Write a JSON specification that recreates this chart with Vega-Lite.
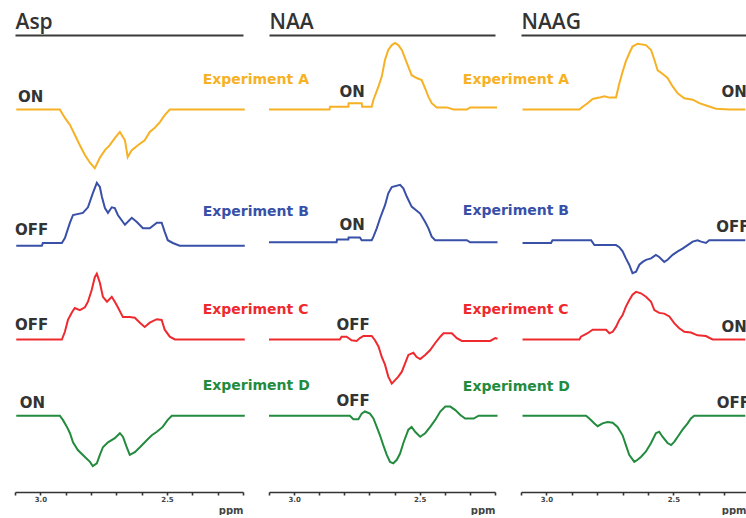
{
"$schema": "https://vega.github.io/schema/vega-lite/v6.json",
"background": "white",
"padding": {"left": 12, "top": 11, "right": 0, "bottom": 0},
"autosize": {"type": "pad"},
"bounds": "flush",
"spacing": 26,
"config": {"view": {"stroke": null}},
"datasets": {
"spectra": [
{"metabolite":"Asp","exp":"A","ppm":3.095,"signal":0},{"metabolite":"Asp","exp":"A","ppm":2.923,"signal":0},{"metabolite":"Asp","exp":"A","ppm":2.903,"signal":-0.12},{"metabolite":"Asp","exp":"A","ppm":2.883,"signal":-0.22},{"metabolite":"Asp","exp":"A","ppm":2.864,"signal":-0.36},{"metabolite":"Asp","exp":"A","ppm":2.844,"signal":-0.51},{"metabolite":"Asp","exp":"A","ppm":2.824,"signal":-0.65},{"metabolite":"Asp","exp":"A","ppm":2.804,"signal":-0.76},{"metabolite":"Asp","exp":"A","ppm":2.785,"signal":-0.84},{"metabolite":"Asp","exp":"A","ppm":2.765,"signal":-0.69},{"metabolite":"Asp","exp":"A","ppm":2.745,"signal":-0.58},{"metabolite":"Asp","exp":"A","ppm":2.726,"signal":-0.51},{"metabolite":"Asp","exp":"A","ppm":2.706,"signal":-0.41},{"metabolite":"Asp","exp":"A","ppm":2.686,"signal":-0.32},{"metabolite":"Asp","exp":"A","ppm":2.666,"signal":-0.44},{"metabolite":"Asp","exp":"A","ppm":2.655,"signal":-0.68},{"metabolite":"Asp","exp":"A","ppm":2.639,"signal":-0.58},{"metabolite":"Asp","exp":"A","ppm":2.615,"signal":-0.51},{"metabolite":"Asp","exp":"A","ppm":2.588,"signal":-0.44},{"metabolite":"Asp","exp":"A","ppm":2.568,"signal":-0.32},{"metabolite":"Asp","exp":"A","ppm":2.548,"signal":-0.26},{"metabolite":"Asp","exp":"A","ppm":2.528,"signal":-0.18},{"metabolite":"Asp","exp":"A","ppm":2.509,"signal":-0.08},{"metabolite":"Asp","exp":"A","ppm":2.489,"signal":0},{"metabolite":"Asp","exp":"A","ppm":2.193,"signal":0},
{"metabolite":"Asp","exp":"B","ppm":3.095,"signal":-0.04},{"metabolite":"Asp","exp":"B","ppm":2.994,"signal":-0.04},{"metabolite":"Asp","exp":"B","ppm":2.99,"signal":0},{"metabolite":"Asp","exp":"B","ppm":2.915,"signal":0},{"metabolite":"Asp","exp":"B","ppm":2.903,"signal":0.07},{"metabolite":"Asp","exp":"B","ppm":2.883,"signal":0.29},{"metabolite":"Asp","exp":"B","ppm":2.871,"signal":0.4},{"metabolite":"Asp","exp":"B","ppm":2.832,"signal":0.43},{"metabolite":"Asp","exp":"B","ppm":2.812,"signal":0.51},{"metabolite":"Asp","exp":"B","ppm":2.793,"signal":0.71},{"metabolite":"Asp","exp":"B","ppm":2.777,"signal":0.86},{"metabolite":"Asp","exp":"B","ppm":2.765,"signal":0.8},{"metabolite":"Asp","exp":"B","ppm":2.757,"signal":0.66},{"metabolite":"Asp","exp":"B","ppm":2.745,"signal":0.5},{"metabolite":"Asp","exp":"B","ppm":2.733,"signal":0.43},{"metabolite":"Asp","exp":"B","ppm":2.718,"signal":0.51},{"metabolite":"Asp","exp":"B","ppm":2.706,"signal":0.5},{"metabolite":"Asp","exp":"B","ppm":2.694,"signal":0.4},{"metabolite":"Asp","exp":"B","ppm":2.666,"signal":0.26},{"metabolite":"Asp","exp":"B","ppm":2.639,"signal":0.36},{"metabolite":"Asp","exp":"B","ppm":2.619,"signal":0.3},{"metabolite":"Asp","exp":"B","ppm":2.595,"signal":0.21},{"metabolite":"Asp","exp":"B","ppm":2.568,"signal":0.21},{"metabolite":"Asp","exp":"B","ppm":2.54,"signal":0.29},{"metabolite":"Asp","exp":"B","ppm":2.521,"signal":0.29},{"metabolite":"Asp","exp":"B","ppm":2.509,"signal":0.16},{"metabolite":"Asp","exp":"B","ppm":2.497,"signal":0.04},{"metabolite":"Asp","exp":"B","ppm":2.477,"signal":0},{"metabolite":"Asp","exp":"B","ppm":2.45,"signal":-0.04},{"metabolite":"Asp","exp":"B","ppm":2.193,"signal":-0.04},
{"metabolite":"Asp","exp":"C","ppm":3.095,"signal":0},{"metabolite":"Asp","exp":"C","ppm":2.915,"signal":0},{"metabolite":"Asp","exp":"C","ppm":2.903,"signal":0.11},{"metabolite":"Asp","exp":"C","ppm":2.891,"signal":0.28},{"metabolite":"Asp","exp":"C","ppm":2.875,"signal":0.39},{"metabolite":"Asp","exp":"C","ppm":2.864,"signal":0.45},{"metabolite":"Asp","exp":"C","ppm":2.844,"signal":0.42},{"metabolite":"Asp","exp":"C","ppm":2.824,"signal":0.46},{"metabolite":"Asp","exp":"C","ppm":2.812,"signal":0.54},{"metabolite":"Asp","exp":"C","ppm":2.797,"signal":0.71},{"metabolite":"Asp","exp":"C","ppm":2.785,"signal":0.89},{"metabolite":"Asp","exp":"C","ppm":2.777,"signal":0.94},{"metabolite":"Asp","exp":"C","ppm":2.765,"signal":0.81},{"metabolite":"Asp","exp":"C","ppm":2.753,"signal":0.61},{"metabolite":"Asp","exp":"C","ppm":2.737,"signal":0.54},{"metabolite":"Asp","exp":"C","ppm":2.718,"signal":0.61},{"metabolite":"Asp","exp":"C","ppm":2.706,"signal":0.54},{"metabolite":"Asp","exp":"C","ppm":2.694,"signal":0.46},{"metabolite":"Asp","exp":"C","ppm":2.674,"signal":0.32},{"metabolite":"Asp","exp":"C","ppm":2.647,"signal":0.32},{"metabolite":"Asp","exp":"C","ppm":2.627,"signal":0.31},{"metabolite":"Asp","exp":"C","ppm":2.607,"signal":0.24},{"metabolite":"Asp","exp":"C","ppm":2.588,"signal":0.18},{"metabolite":"Asp","exp":"C","ppm":2.568,"signal":0.24},{"metabolite":"Asp","exp":"C","ppm":2.54,"signal":0.29},{"metabolite":"Asp","exp":"C","ppm":2.521,"signal":0.28},{"metabolite":"Asp","exp":"C","ppm":2.509,"signal":0.14},{"metabolite":"Asp","exp":"C","ppm":2.489,"signal":0.04},{"metabolite":"Asp","exp":"C","ppm":2.469,"signal":0},{"metabolite":"Asp","exp":"C","ppm":2.193,"signal":0},
{"metabolite":"Asp","exp":"D","ppm":3.095,"signal":0},{"metabolite":"Asp","exp":"D","ppm":2.923,"signal":0},{"metabolite":"Asp","exp":"D","ppm":2.911,"signal":-0.06},{"metabolite":"Asp","exp":"D","ppm":2.895,"signal":-0.16},{"metabolite":"Asp","exp":"D","ppm":2.883,"signal":-0.25},{"metabolite":"Asp","exp":"D","ppm":2.871,"signal":-0.38},{"metabolite":"Asp","exp":"D","ppm":2.852,"signal":-0.49},{"metabolite":"Asp","exp":"D","ppm":2.824,"signal":-0.59},{"metabolite":"Asp","exp":"D","ppm":2.804,"signal":-0.66},{"metabolite":"Asp","exp":"D","ppm":2.793,"signal":-0.72},{"metabolite":"Asp","exp":"D","ppm":2.777,"signal":-0.68},{"metabolite":"Asp","exp":"D","ppm":2.765,"signal":-0.56},{"metabolite":"Asp","exp":"D","ppm":2.753,"signal":-0.45},{"metabolite":"Asp","exp":"D","ppm":2.733,"signal":-0.38},{"metabolite":"Asp","exp":"D","ppm":2.706,"signal":-0.32},{"metabolite":"Asp","exp":"D","ppm":2.686,"signal":-0.25},{"metabolite":"Asp","exp":"D","ppm":2.674,"signal":-0.3},{"metabolite":"Asp","exp":"D","ppm":2.659,"signal":-0.45},{"metabolite":"Asp","exp":"D","ppm":2.647,"signal":-0.56},{"metabolite":"Asp","exp":"D","ppm":2.627,"signal":-0.52},{"metabolite":"Asp","exp":"D","ppm":2.607,"signal":-0.45},{"metabolite":"Asp","exp":"D","ppm":2.58,"signal":-0.35},{"metabolite":"Asp","exp":"D","ppm":2.56,"signal":-0.28},{"metabolite":"Asp","exp":"D","ppm":2.54,"signal":-0.23},{"metabolite":"Asp","exp":"D","ppm":2.517,"signal":-0.16},{"metabolite":"Asp","exp":"D","ppm":2.497,"signal":-0.06},{"metabolite":"Asp","exp":"D","ppm":2.481,"signal":0},{"metabolite":"Asp","exp":"D","ppm":2.193,"signal":0},
{"metabolite":"NAA","exp":"A","ppm":3.1,"signal":0},{"metabolite":"NAA","exp":"A","ppm":2.859,"signal":0},{"metabolite":"NAA","exp":"A","ppm":2.857,"signal":0.04},{"metabolite":"NAA","exp":"A","ppm":2.784,"signal":0.04},{"metabolite":"NAA","exp":"A","ppm":2.783,"signal":0.09},{"metabolite":"NAA","exp":"A","ppm":2.731,"signal":0.09},{"metabolite":"NAA","exp":"A","ppm":2.729,"signal":0.04},{"metabolite":"NAA","exp":"A","ppm":2.691,"signal":0.04},{"metabolite":"NAA","exp":"A","ppm":2.684,"signal":0.14},{"metabolite":"NAA","exp":"A","ppm":2.664,"signal":0.33},{"metabolite":"NAA","exp":"A","ppm":2.651,"signal":0.47},{"metabolite":"NAA","exp":"A","ppm":2.638,"signal":0.71},{"metabolite":"NAA","exp":"A","ppm":2.625,"signal":0.85},{"metabolite":"NAA","exp":"A","ppm":2.611,"signal":0.92},{"metabolite":"NAA","exp":"A","ppm":2.598,"signal":0.95},{"metabolite":"NAA","exp":"A","ppm":2.585,"signal":0.92},{"metabolite":"NAA","exp":"A","ppm":2.571,"signal":0.85},{"metabolite":"NAA","exp":"A","ppm":2.558,"signal":0.73},{"metabolite":"NAA","exp":"A","ppm":2.545,"signal":0.61},{"metabolite":"NAA","exp":"A","ppm":2.532,"signal":0.49},{"metabolite":"NAA","exp":"A","ppm":2.512,"signal":0.45},{"metabolite":"NAA","exp":"A","ppm":2.492,"signal":0.42},{"metabolite":"NAA","exp":"A","ppm":2.478,"signal":0.3},{"metabolite":"NAA","exp":"A","ppm":2.465,"signal":0.18},{"metabolite":"NAA","exp":"A","ppm":2.452,"signal":0.09},{"metabolite":"NAA","exp":"A","ppm":2.432,"signal":0.03},{"metabolite":"NAA","exp":"A","ppm":2.392,"signal":0.03},{"metabolite":"NAA","exp":"A","ppm":2.365,"signal":0},{"metabolite":"NAA","exp":"A","ppm":2.312,"signal":0},{"metabolite":"NAA","exp":"A","ppm":2.299,"signal":0.03},{"metabolite":"NAA","exp":"A","ppm":2.192,"signal":0.03},
{"metabolite":"NAA","exp":"B","ppm":3.1,"signal":0.01},{"metabolite":"NAA","exp":"B","ppm":2.831,"signal":0.01},{"metabolite":"NAA","exp":"B","ppm":2.829,"signal":0.05},{"metabolite":"NAA","exp":"B","ppm":2.784,"signal":0.05},{"metabolite":"NAA","exp":"B","ppm":2.783,"signal":0.08},{"metabolite":"NAA","exp":"B","ppm":2.738,"signal":0.08},{"metabolite":"NAA","exp":"B","ppm":2.731,"signal":0.04},{"metabolite":"NAA","exp":"B","ppm":2.691,"signal":0.04},{"metabolite":"NAA","exp":"B","ppm":2.684,"signal":0.09},{"metabolite":"NAA","exp":"B","ppm":2.671,"signal":0.21},{"metabolite":"NAA","exp":"B","ppm":2.658,"signal":0.35},{"metabolite":"NAA","exp":"B","ppm":2.638,"signal":0.54},{"metabolite":"NAA","exp":"B","ppm":2.625,"signal":0.71},{"metabolite":"NAA","exp":"B","ppm":2.611,"signal":0.8},{"metabolite":"NAA","exp":"B","ppm":2.578,"signal":0.83},{"metabolite":"NAA","exp":"B","ppm":2.565,"signal":0.78},{"metabolite":"NAA","exp":"B","ppm":2.551,"signal":0.66},{"metabolite":"NAA","exp":"B","ppm":2.532,"signal":0.52},{"metabolite":"NAA","exp":"B","ppm":2.498,"signal":0.42},{"metabolite":"NAA","exp":"B","ppm":2.478,"signal":0.3},{"metabolite":"NAA","exp":"B","ppm":2.465,"signal":0.21},{"metabolite":"NAA","exp":"B","ppm":2.452,"signal":0.09},{"metabolite":"NAA","exp":"B","ppm":2.438,"signal":0.04},{"metabolite":"NAA","exp":"B","ppm":2.312,"signal":0.04},{"metabolite":"NAA","exp":"B","ppm":2.299,"signal":0.01},{"metabolite":"NAA","exp":"B","ppm":2.19,"signal":0.01},
{"metabolite":"NAA","exp":"C","ppm":3.1,"signal":0},{"metabolite":"NAA","exp":"C","ppm":2.818,"signal":0},{"metabolite":"NAA","exp":"C","ppm":2.811,"signal":0.04},{"metabolite":"NAA","exp":"C","ppm":2.791,"signal":0.04},{"metabolite":"NAA","exp":"C","ppm":2.771,"signal":-0.01},{"metabolite":"NAA","exp":"C","ppm":2.751,"signal":-0.02},{"metabolite":"NAA","exp":"C","ppm":2.738,"signal":0.02},{"metabolite":"NAA","exp":"C","ppm":2.724,"signal":0.05},{"metabolite":"NAA","exp":"C","ppm":2.691,"signal":0.05},{"metabolite":"NAA","exp":"C","ppm":2.678,"signal":-0.01},{"metabolite":"NAA","exp":"C","ppm":2.664,"signal":-0.1},{"metabolite":"NAA","exp":"C","ppm":2.651,"signal":-0.25},{"metabolite":"NAA","exp":"C","ppm":2.638,"signal":-0.36},{"metabolite":"NAA","exp":"C","ppm":2.625,"signal":-0.53},{"metabolite":"NAA","exp":"C","ppm":2.611,"signal":-0.63},{"metabolite":"NAA","exp":"C","ppm":2.598,"signal":-0.58},{"metabolite":"NAA","exp":"C","ppm":2.585,"signal":-0.53},{"metabolite":"NAA","exp":"C","ppm":2.571,"signal":-0.46},{"metabolite":"NAA","exp":"C","ppm":2.558,"signal":-0.34},{"metabolite":"NAA","exp":"C","ppm":2.545,"signal":-0.22},{"metabolite":"NAA","exp":"C","ppm":2.525,"signal":-0.19},{"metabolite":"NAA","exp":"C","ppm":2.512,"signal":-0.25},{"metabolite":"NAA","exp":"C","ppm":2.498,"signal":-0.28},{"metabolite":"NAA","exp":"C","ppm":2.478,"signal":-0.22},{"metabolite":"NAA","exp":"C","ppm":2.458,"signal":-0.15},{"metabolite":"NAA","exp":"C","ppm":2.438,"signal":-0.05},{"metabolite":"NAA","exp":"C","ppm":2.418,"signal":0.04},{"metabolite":"NAA","exp":"C","ppm":2.405,"signal":0.09},{"metabolite":"NAA","exp":"C","ppm":2.372,"signal":0.09},{"metabolite":"NAA","exp":"C","ppm":2.352,"signal":0.02},{"metabolite":"NAA","exp":"C","ppm":2.332,"signal":-0.02},{"metabolite":"NAA","exp":"C","ppm":2.219,"signal":-0.02},{"metabolite":"NAA","exp":"C","ppm":2.199,"signal":0.02},{"metabolite":"NAA","exp":"C","ppm":2.19,"signal":0.01},
{"metabolite":"NAA","exp":"D","ppm":3.1,"signal":0},{"metabolite":"NAA","exp":"D","ppm":2.778,"signal":0},{"metabolite":"NAA","exp":"D","ppm":2.764,"signal":-0.05},{"metabolite":"NAA","exp":"D","ppm":2.744,"signal":-0.05},{"metabolite":"NAA","exp":"D","ppm":2.731,"signal":0.03},{"metabolite":"NAA","exp":"D","ppm":2.718,"signal":0.06},{"metabolite":"NAA","exp":"D","ppm":2.698,"signal":0.03},{"metabolite":"NAA","exp":"D","ppm":2.684,"signal":-0.04},{"metabolite":"NAA","exp":"D","ppm":2.671,"signal":-0.16},{"metabolite":"NAA","exp":"D","ppm":2.658,"signal":-0.28},{"metabolite":"NAA","exp":"D","ppm":2.645,"signal":-0.42},{"metabolite":"NAA","exp":"D","ppm":2.631,"signal":-0.56},{"metabolite":"NAA","exp":"D","ppm":2.618,"signal":-0.66},{"metabolite":"NAA","exp":"D","ppm":2.605,"signal":-0.68},{"metabolite":"NAA","exp":"D","ppm":2.591,"signal":-0.63},{"metabolite":"NAA","exp":"D","ppm":2.578,"signal":-0.54},{"metabolite":"NAA","exp":"D","ppm":2.565,"signal":-0.39},{"metabolite":"NAA","exp":"D","ppm":2.545,"signal":-0.2},{"metabolite":"NAA","exp":"D","ppm":2.532,"signal":-0.16},{"metabolite":"NAA","exp":"D","ppm":2.518,"signal":-0.23},{"metabolite":"NAA","exp":"D","ppm":2.498,"signal":-0.3},{"metabolite":"NAA","exp":"D","ppm":2.478,"signal":-0.25},{"metabolite":"NAA","exp":"D","ppm":2.458,"signal":-0.16},{"metabolite":"NAA","exp":"D","ppm":2.438,"signal":-0.06},{"metabolite":"NAA","exp":"D","ppm":2.418,"signal":0.06},{"metabolite":"NAA","exp":"D","ppm":2.398,"signal":0.13},{"metabolite":"NAA","exp":"D","ppm":2.378,"signal":0.13},{"metabolite":"NAA","exp":"D","ppm":2.358,"signal":0.08},{"metabolite":"NAA","exp":"D","ppm":2.338,"signal":0.01},{"metabolite":"NAA","exp":"D","ppm":2.319,"signal":-0.04},{"metabolite":"NAA","exp":"D","ppm":2.285,"signal":-0.04},{"metabolite":"NAA","exp":"D","ppm":2.265,"signal":0},{"metabolite":"NAA","exp":"D","ppm":2.19,"signal":0},
{"metabolite":"NAAG","exp":"A","ppm":3.094,"signal":0},{"metabolite":"NAAG","exp":"A","ppm":2.87,"signal":0},{"metabolite":"NAAG","exp":"A","ppm":2.857,"signal":0.04},{"metabolite":"NAAG","exp":"A","ppm":2.838,"signal":0.09},{"metabolite":"NAAG","exp":"A","ppm":2.818,"signal":0.15},{"metabolite":"NAAG","exp":"A","ppm":2.792,"signal":0.17},{"metabolite":"NAAG","exp":"A","ppm":2.772,"signal":0.19},{"metabolite":"NAAG","exp":"A","ppm":2.752,"signal":0.17},{"metabolite":"NAAG","exp":"A","ppm":2.726,"signal":0.17},{"metabolite":"NAAG","exp":"A","ppm":2.713,"signal":0.37},{"metabolite":"NAAG","exp":"A","ppm":2.7,"signal":0.54},{"metabolite":"NAAG","exp":"A","ppm":2.687,"signal":0.69},{"metabolite":"NAAG","exp":"A","ppm":2.674,"signal":0.8},{"metabolite":"NAAG","exp":"A","ppm":2.661,"signal":0.9},{"metabolite":"NAAG","exp":"A","ppm":2.641,"signal":0.94},{"metabolite":"NAAG","exp":"A","ppm":2.608,"signal":0.92},{"metabolite":"NAAG","exp":"A","ppm":2.588,"signal":0.85},{"metabolite":"NAAG","exp":"A","ppm":2.575,"signal":0.71},{"metabolite":"NAAG","exp":"A","ppm":2.562,"signal":0.56},{"metabolite":"NAAG","exp":"A","ppm":2.543,"signal":0.51},{"metabolite":"NAAG","exp":"A","ppm":2.523,"signal":0.45},{"metabolite":"NAAG","exp":"A","ppm":2.503,"signal":0.33},{"metabolite":"NAAG","exp":"A","ppm":2.483,"signal":0.23},{"metabolite":"NAAG","exp":"A","ppm":2.457,"signal":0.16},{"metabolite":"NAAG","exp":"A","ppm":2.424,"signal":0.14},{"metabolite":"NAAG","exp":"A","ppm":2.398,"signal":0.09},{"metabolite":"NAAG","exp":"A","ppm":2.365,"signal":0.05},{"metabolite":"NAAG","exp":"A","ppm":2.332,"signal":0.01},{"metabolite":"NAAG","exp":"A","ppm":2.28,"signal":0},{"metabolite":"NAAG","exp":"A","ppm":2.217,"signal":0},
{"metabolite":"NAAG","exp":"B","ppm":3.094,"signal":0},{"metabolite":"NAAG","exp":"B","ppm":2.982,"signal":0},{"metabolite":"NAAG","exp":"B","ppm":2.976,"signal":0.04},{"metabolite":"NAAG","exp":"B","ppm":2.824,"signal":0.04},{"metabolite":"NAAG","exp":"B","ppm":2.811,"signal":-0.03},{"metabolite":"NAAG","exp":"B","ppm":2.726,"signal":-0.03},{"metabolite":"NAAG","exp":"B","ppm":2.713,"signal":-0.06},{"metabolite":"NAAG","exp":"B","ppm":2.7,"signal":-0.12},{"metabolite":"NAAG","exp":"B","ppm":2.687,"signal":-0.22},{"metabolite":"NAAG","exp":"B","ppm":2.674,"signal":-0.31},{"metabolite":"NAAG","exp":"B","ppm":2.661,"signal":-0.43},{"metabolite":"NAAG","exp":"B","ppm":2.647,"signal":-0.41},{"metabolite":"NAAG","exp":"B","ppm":2.634,"signal":-0.31},{"metabolite":"NAAG","exp":"B","ppm":2.621,"signal":-0.27},{"metabolite":"NAAG","exp":"B","ppm":2.608,"signal":-0.24},{"metabolite":"NAAG","exp":"B","ppm":2.588,"signal":-0.22},{"metabolite":"NAAG","exp":"B","ppm":2.569,"signal":-0.17},{"metabolite":"NAAG","exp":"B","ppm":2.556,"signal":-0.2},{"metabolite":"NAAG","exp":"B","ppm":2.536,"signal":-0.27},{"metabolite":"NAAG","exp":"B","ppm":2.523,"signal":-0.24},{"metabolite":"NAAG","exp":"B","ppm":2.503,"signal":-0.17},{"metabolite":"NAAG","exp":"B","ppm":2.483,"signal":-0.12},{"metabolite":"NAAG","exp":"B","ppm":2.464,"signal":-0.08},{"metabolite":"NAAG","exp":"B","ppm":2.444,"signal":-0.03},{"metabolite":"NAAG","exp":"B","ppm":2.424,"signal":0.02},{"metabolite":"NAAG","exp":"B","ppm":2.405,"signal":0.04},{"metabolite":"NAAG","exp":"B","ppm":2.391,"signal":0.02},{"metabolite":"NAAG","exp":"B","ppm":2.372,"signal":0},{"metabolite":"NAAG","exp":"B","ppm":2.359,"signal":0.04},{"metabolite":"NAAG","exp":"B","ppm":2.217,"signal":0.04},
{"metabolite":"NAAG","exp":"C","ppm":3.094,"signal":0},{"metabolite":"NAAG","exp":"C","ppm":2.87,"signal":0},{"metabolite":"NAAG","exp":"C","ppm":2.864,"signal":0.04},{"metabolite":"NAAG","exp":"C","ppm":2.838,"signal":0.09},{"metabolite":"NAAG","exp":"C","ppm":2.818,"signal":0.14},{"metabolite":"NAAG","exp":"C","ppm":2.765,"signal":0.14},{"metabolite":"NAAG","exp":"C","ppm":2.752,"signal":0.09},{"metabolite":"NAAG","exp":"C","ppm":2.739,"signal":0.11},{"metabolite":"NAAG","exp":"C","ppm":2.726,"signal":0.18},{"metabolite":"NAAG","exp":"C","ppm":2.713,"signal":0.28},{"metabolite":"NAAG","exp":"C","ppm":2.7,"signal":0.35},{"metabolite":"NAAG","exp":"C","ppm":2.687,"signal":0.47},{"metabolite":"NAAG","exp":"C","ppm":2.674,"signal":0.56},{"metabolite":"NAAG","exp":"C","ppm":2.661,"signal":0.64},{"metabolite":"NAAG","exp":"C","ppm":2.647,"signal":0.68},{"metabolite":"NAAG","exp":"C","ppm":2.628,"signal":0.66},{"metabolite":"NAAG","exp":"C","ppm":2.608,"signal":0.61},{"metabolite":"NAAG","exp":"C","ppm":2.588,"signal":0.54},{"metabolite":"NAAG","exp":"C","ppm":2.575,"signal":0.42},{"metabolite":"NAAG","exp":"C","ppm":2.556,"signal":0.38},{"metabolite":"NAAG","exp":"C","ppm":2.536,"signal":0.37},{"metabolite":"NAAG","exp":"C","ppm":2.516,"signal":0.33},{"metabolite":"NAAG","exp":"C","ppm":2.496,"signal":0.23},{"metabolite":"NAAG","exp":"C","ppm":2.477,"signal":0.16},{"metabolite":"NAAG","exp":"C","ppm":2.457,"signal":0.11},{"metabolite":"NAAG","exp":"C","ppm":2.431,"signal":0.1},{"metabolite":"NAAG","exp":"C","ppm":2.405,"signal":0.06},{"metabolite":"NAAG","exp":"C","ppm":2.372,"signal":0.05},{"metabolite":"NAAG","exp":"C","ppm":2.346,"signal":0},{"metabolite":"NAAG","exp":"C","ppm":2.217,"signal":0},
{"metabolite":"NAAG","exp":"D","ppm":3.094,"signal":0},{"metabolite":"NAAG","exp":"D","ppm":2.844,"signal":0},{"metabolite":"NAAG","exp":"D","ppm":2.831,"signal":-0.04},{"metabolite":"NAAG","exp":"D","ppm":2.811,"signal":-0.11},{"metabolite":"NAAG","exp":"D","ppm":2.798,"signal":-0.15},{"metabolite":"NAAG","exp":"D","ppm":2.779,"signal":-0.11},{"metabolite":"NAAG","exp":"D","ppm":2.759,"signal":-0.09},{"metabolite":"NAAG","exp":"D","ppm":2.739,"signal":-0.1},{"metabolite":"NAAG","exp":"D","ppm":2.72,"signal":-0.16},{"metabolite":"NAAG","exp":"D","ppm":2.7,"signal":-0.28},{"metabolite":"NAAG","exp":"D","ppm":2.687,"signal":-0.42},{"metabolite":"NAAG","exp":"D","ppm":2.674,"signal":-0.56},{"metabolite":"NAAG","exp":"D","ppm":2.654,"signal":-0.66},{"metabolite":"NAAG","exp":"D","ppm":2.641,"signal":-0.63},{"metabolite":"NAAG","exp":"D","ppm":2.628,"signal":-0.59},{"metabolite":"NAAG","exp":"D","ppm":2.608,"signal":-0.51},{"metabolite":"NAAG","exp":"D","ppm":2.588,"signal":-0.39},{"metabolite":"NAAG","exp":"D","ppm":2.569,"signal":-0.25},{"metabolite":"NAAG","exp":"D","ppm":2.556,"signal":-0.23},{"metabolite":"NAAG","exp":"D","ppm":2.543,"signal":-0.3},{"metabolite":"NAAG","exp":"D","ppm":2.523,"signal":-0.39},{"metabolite":"NAAG","exp":"D","ppm":2.509,"signal":-0.42},{"metabolite":"NAAG","exp":"D","ppm":2.496,"signal":-0.37},{"metabolite":"NAAG","exp":"D","ppm":2.483,"signal":-0.3},{"metabolite":"NAAG","exp":"D","ppm":2.464,"signal":-0.2},{"metabolite":"NAAG","exp":"D","ppm":2.444,"signal":-0.11},{"metabolite":"NAAG","exp":"D","ppm":2.431,"signal":-0.04},{"metabolite":"NAAG","exp":"D","ppm":2.418,"signal":0},{"metabolite":"NAAG","exp":"D","ppm":2.217,"signal":0}
],
"labels": [
{"metabolite":"Asp","exp":"A","ppm":3.088,"signal":0.11,"label":"ON","type":"state"},
{"metabolite":"Asp","exp":"B","ppm":3.1,"signal":0.11,"label":"OFF","type":"state"},
{"metabolite":"Asp","exp":"C","ppm":3.1,"signal":0.14,"label":"OFF","type":"state"},
{"metabolite":"Asp","exp":"D","ppm":3.081,"signal":0.11,"label":"ON","type":"state"},
{"metabolite":"NAA","exp":"A","ppm":2.819,"signal":0.18,"label":"ON","type":"state"},
{"metabolite":"NAA","exp":"B","ppm":2.819,"signal":0.19,"label":"ON","type":"state"},
{"metabolite":"NAA","exp":"C","ppm":2.831,"signal":0.14,"label":"OFF","type":"state"},
{"metabolite":"NAA","exp":"D","ppm":2.831,"signal":0.14,"label":"OFF","type":"state"},
{"metabolite":"NAAG","exp":"A","ppm":2.311,"signal":0.18,"label":"ON","type":"state"},
{"metabolite":"NAAG","exp":"B","ppm":2.331,"signal":0.16,"label":"OFF","type":"state"},
{"metabolite":"NAAG","exp":"C","ppm":2.311,"signal":0.11,"label":"ON","type":"state"},
{"metabolite":"NAAG","exp":"D","ppm":2.329,"signal":0.11,"label":"OFF","type":"state"},
{"metabolite":"Asp","exp":"A","ppm":2.359,"signal":0.36,"label":"Experiment A","type":"experiment"},
{"metabolite":"Asp","exp":"B","ppm":2.359,"signal":0.39,"label":"Experiment B","type":"experiment"},
{"metabolite":"Asp","exp":"C","ppm":2.359,"signal":0.37,"label":"Experiment C","type":"experiment"},
{"metabolite":"Asp","exp":"D","ppm":2.359,"signal":0.37,"label":"Experiment D","type":"experiment"},
{"metabolite":"NAA","exp":"A","ppm":2.328,"signal":0.36,"label":"Experiment A","type":"experiment"},
{"metabolite":"NAA","exp":"B","ppm":2.328,"signal":0.4,"label":"Experiment B","type":"experiment"},
{"metabolite":"NAA","exp":"C","ppm":2.328,"signal":0.36,"label":"Experiment C","type":"experiment"},
{"metabolite":"NAA","exp":"D","ppm":2.328,"signal":0.35,"label":"Experiment D","type":"experiment"}
]
},
"hconcat": [
{
"width": 228, "height": 457,
"resolve": {"scale": {"y": "independent"}, "axis": {"x": "independent"}},
"layer": [
{"encoding": {"x": {"field": "ppm", "type": "quantitative", "scale": {"domain": [3.1, 2.2], "nice": false, "zero": false}, "axis": {"orient": "top", "domain": true, "domainColor": "#3a3a3a", "domainWidth": 2.2, "ticks": false, "labels": false, "grid": false, "title": "Asp", "titleAnchor": "start", "titleAlign": "left", "titleBaseline": "alphabetic", "titlePadding": 7, "titleFont": "Open Sans", "titleFontSize": 21, "titleFontWeight": 600, "titleColor": "#333333"}},
  "y": {"field": "signal", "type": "quantitative", "scale": {"domain": [-5.4643, 1.0643], "nice": false, "zero": false}, "axis": null}},
 "layer": [
  {"data": {"name": "spectra"}, "transform": [{"filter": "datum.metabolite === 'Asp' && datum.exp === 'A'"}], "mark": {"type": "line", "strokeWidth": 2}, "encoding": {"color": {"field": "exp", "type": "nominal", "scale": {"domain": ["A","B","C","D"], "range": ["#F6B124","#3850A7","#EE2A2F","#238B3E"]}, "legend": null}}},
  {"data": {"name": "labels"}, "transform": [{"filter": "datum.metabolite === 'Asp' && datum.exp === 'A' && datum.type === 'state'"}], "mark": {"type": "text", "align": "left", "baseline": "alphabetic", "font": "DejaVu Sans", "fontWeight": "bold", "fontSize": 15, "color": "#333333"}, "encoding": {"text": {"field": "label"}}},
  {"data": {"name": "labels"}, "transform": [{"filter": "datum.metabolite === 'Asp' && datum.exp === 'A' && datum.type === 'experiment'"}], "mark": {"type": "text", "align": "left", "baseline": "alphabetic", "font": "DejaVu Sans", "fontWeight": "bold", "fontSize": 14}, "encoding": {"text": {"field": "label"}, "color": {"field": "exp", "type": "nominal", "scale": {"domain": ["A","B","C","D"], "range": ["#F6B124","#3850A7","#EE2A2F","#238B3E"]}, "legend": null}}}
 ]},
{"encoding": {"x": {"field": "ppm", "type": "quantitative", "scale": {"domain": [3.1, 2.2], "nice": false, "zero": false}, "axis": null},
  "y": {"field": "signal", "type": "quantitative", "scale": {"domain": [-3.5571, 2.9714], "nice": false, "zero": false}, "axis": null}},
 "layer": [
  {"data": {"name": "spectra"}, "transform": [{"filter": "datum.metabolite === 'Asp' && datum.exp === 'B'"}], "mark": {"type": "line", "strokeWidth": 2}, "encoding": {"color": {"field": "exp", "type": "nominal", "scale": {"domain": ["A","B","C","D"], "range": ["#F6B124","#3850A7","#EE2A2F","#238B3E"]}, "legend": null}}},
  {"data": {"name": "labels"}, "transform": [{"filter": "datum.metabolite === 'Asp' && datum.exp === 'B' && datum.type === 'state'"}], "mark": {"type": "text", "align": "left", "baseline": "alphabetic", "font": "DejaVu Sans", "fontWeight": "bold", "fontSize": 15, "color": "#333333"}, "encoding": {"text": {"field": "label"}}},
  {"data": {"name": "labels"}, "transform": [{"filter": "datum.metabolite === 'Asp' && datum.exp === 'B' && datum.type === 'experiment'"}], "mark": {"type": "text", "align": "left", "baseline": "alphabetic", "font": "DejaVu Sans", "fontWeight": "bold", "fontSize": 14}, "encoding": {"text": {"field": "label"}, "color": {"field": "exp", "type": "nominal", "scale": {"domain": ["A","B","C","D"], "range": ["#F6B124","#3850A7","#EE2A2F","#238B3E"]}, "legend": null}}}
 ]},
{"encoding": {"x": {"field": "ppm", "type": "quantitative", "scale": {"domain": [3.1, 2.2], "nice": false, "zero": false}, "axis": null},
  "y": {"field": "signal", "type": "quantitative", "scale": {"domain": [-2.1786, 4.35], "nice": false, "zero": false}, "axis": null}},
 "layer": [
  {"data": {"name": "spectra"}, "transform": [{"filter": "datum.metabolite === 'Asp' && datum.exp === 'C'"}], "mark": {"type": "line", "strokeWidth": 2}, "encoding": {"color": {"field": "exp", "type": "nominal", "scale": {"domain": ["A","B","C","D"], "range": ["#F6B124","#3850A7","#EE2A2F","#238B3E"]}, "legend": null}}},
  {"data": {"name": "labels"}, "transform": [{"filter": "datum.metabolite === 'Asp' && datum.exp === 'C' && datum.type === 'state'"}], "mark": {"type": "text", "align": "left", "baseline": "alphabetic", "font": "DejaVu Sans", "fontWeight": "bold", "fontSize": 15, "color": "#333333"}, "encoding": {"text": {"field": "label"}}},
  {"data": {"name": "labels"}, "transform": [{"filter": "datum.metabolite === 'Asp' && datum.exp === 'C' && datum.type === 'experiment'"}], "mark": {"type": "text", "align": "left", "baseline": "alphabetic", "font": "DejaVu Sans", "fontWeight": "bold", "fontSize": 14}, "encoding": {"text": {"field": "label"}, "color": {"field": "exp", "type": "nominal", "scale": {"domain": ["A","B","C","D"], "range": ["#F6B124","#3850A7","#EE2A2F","#238B3E"]}, "legend": null}}}
 ]},
{"encoding": {"x": {"field": "ppm", "type": "quantitative", "scale": {"domain": [3.1, 2.2], "nice": false, "zero": false}, "axis": {"orient": "bottom", "values": [3.1, 3.0, 2.9, 2.8, 2.7, 2.6, 2.5, 2.4, 2.3, 2.2], "grid": false, "domainColor": "#333333", "domainWidth": 1.6, "tickColor": "#333333", "tickWidth": 1.6, "tickSize": 3, "labelExpr": "abs(datum.value - 3) < 0.001 ? '3.0' : (abs(datum.value - 2.5) < 0.001 ? '2.5' : '')", "labelFont": "DejaVu Sans", "labelFontWeight": "bold", "labelFontSize": 7, "labelColor": "#444444", "labelPadding": 0, "labelFlush": false, "labelOverlap": false, "title": "ppm", "titleAnchor": "end", "titleFont": "DejaVu Sans", "titleFontWeight": "bold", "titleFontSize": 10, "titleColor": "#444444", "titlePadding": 3}},
  "y": {"field": "signal", "type": "quantitative", "scale": {"domain": [-1.09, 5.4386], "nice": false, "zero": false}, "axis": null}},
 "layer": [
  {"data": {"name": "spectra"}, "transform": [{"filter": "datum.metabolite === 'Asp' && datum.exp === 'D'"}], "mark": {"type": "line", "strokeWidth": 2}, "encoding": {"color": {"field": "exp", "type": "nominal", "scale": {"domain": ["A","B","C","D"], "range": ["#F6B124","#3850A7","#EE2A2F","#238B3E"]}, "legend": null}}},
  {"data": {"name": "labels"}, "transform": [{"filter": "datum.metabolite === 'Asp' && datum.exp === 'D' && datum.type === 'state'"}], "mark": {"type": "text", "align": "left", "baseline": "alphabetic", "font": "DejaVu Sans", "fontWeight": "bold", "fontSize": 15, "color": "#333333"}, "encoding": {"text": {"field": "label"}}},
  {"data": {"name": "labels"}, "transform": [{"filter": "datum.metabolite === 'Asp' && datum.exp === 'D' && datum.type === 'experiment'"}], "mark": {"type": "text", "align": "left", "baseline": "alphabetic", "font": "DejaVu Sans", "fontWeight": "bold", "fontSize": 14}, "encoding": {"text": {"field": "label"}, "color": {"field": "exp", "type": "nominal", "scale": {"domain": ["A","B","C","D"], "range": ["#F6B124","#3850A7","#EE2A2F","#238B3E"]}, "legend": null}}}
 ]}
]
},
{
"width": 226, "height": 457,
"resolve": {"scale": {"y": "independent"}, "axis": {"x": "independent"}},
"layer": [
{"encoding": {"x": {"field": "ppm", "type": "quantitative", "scale": {"domain": [3.1, 2.2], "nice": false, "zero": false}, "axis": {"orient": "top", "domain": true, "domainColor": "#3a3a3a", "domainWidth": 2.2, "ticks": false, "labels": false, "grid": false, "title": "NAA", "titleAnchor": "start", "titleAlign": "left", "titleBaseline": "alphabetic", "titlePadding": 7, "titleFont": "Open Sans", "titleFontSize": 21, "titleFontWeight": 600, "titleColor": "#333333"}},
  "y": {"field": "signal", "type": "quantitative", "scale": {"domain": [-5.4643, 1.0643], "nice": false, "zero": false}, "axis": null}},
 "layer": [
  {"data": {"name": "spectra"}, "transform": [{"filter": "datum.metabolite === 'NAA' && datum.exp === 'A'"}], "mark": {"type": "line", "strokeWidth": 2}, "encoding": {"color": {"field": "exp", "type": "nominal", "scale": {"domain": ["A","B","C","D"], "range": ["#F6B124","#3850A7","#EE2A2F","#238B3E"]}, "legend": null}}},
  {"data": {"name": "labels"}, "transform": [{"filter": "datum.metabolite === 'NAA' && datum.exp === 'A' && datum.type === 'state'"}], "mark": {"type": "text", "align": "left", "baseline": "alphabetic", "font": "DejaVu Sans", "fontWeight": "bold", "fontSize": 15, "color": "#333333"}, "encoding": {"text": {"field": "label"}}},
  {"data": {"name": "labels"}, "transform": [{"filter": "datum.metabolite === 'NAA' && datum.exp === 'A' && datum.type === 'experiment'"}], "mark": {"type": "text", "align": "left", "baseline": "alphabetic", "font": "DejaVu Sans", "fontWeight": "bold", "fontSize": 14}, "encoding": {"text": {"field": "label"}, "color": {"field": "exp", "type": "nominal", "scale": {"domain": ["A","B","C","D"], "range": ["#F6B124","#3850A7","#EE2A2F","#238B3E"]}, "legend": null}}}
 ]},
{"encoding": {"x": {"field": "ppm", "type": "quantitative", "scale": {"domain": [3.1, 2.2], "nice": false, "zero": false}, "axis": null},
  "y": {"field": "signal", "type": "quantitative", "scale": {"domain": [-3.5571, 2.9714], "nice": false, "zero": false}, "axis": null}},
 "layer": [
  {"data": {"name": "spectra"}, "transform": [{"filter": "datum.metabolite === 'NAA' && datum.exp === 'B'"}], "mark": {"type": "line", "strokeWidth": 2}, "encoding": {"color": {"field": "exp", "type": "nominal", "scale": {"domain": ["A","B","C","D"], "range": ["#F6B124","#3850A7","#EE2A2F","#238B3E"]}, "legend": null}}},
  {"data": {"name": "labels"}, "transform": [{"filter": "datum.metabolite === 'NAA' && datum.exp === 'B' && datum.type === 'state'"}], "mark": {"type": "text", "align": "left", "baseline": "alphabetic", "font": "DejaVu Sans", "fontWeight": "bold", "fontSize": 15, "color": "#333333"}, "encoding": {"text": {"field": "label"}}},
  {"data": {"name": "labels"}, "transform": [{"filter": "datum.metabolite === 'NAA' && datum.exp === 'B' && datum.type === 'experiment'"}], "mark": {"type": "text", "align": "left", "baseline": "alphabetic", "font": "DejaVu Sans", "fontWeight": "bold", "fontSize": 14}, "encoding": {"text": {"field": "label"}, "color": {"field": "exp", "type": "nominal", "scale": {"domain": ["A","B","C","D"], "range": ["#F6B124","#3850A7","#EE2A2F","#238B3E"]}, "legend": null}}}
 ]},
{"encoding": {"x": {"field": "ppm", "type": "quantitative", "scale": {"domain": [3.1, 2.2], "nice": false, "zero": false}, "axis": null},
  "y": {"field": "signal", "type": "quantitative", "scale": {"domain": [-2.1786, 4.35], "nice": false, "zero": false}, "axis": null}},
 "layer": [
  {"data": {"name": "spectra"}, "transform": [{"filter": "datum.metabolite === 'NAA' && datum.exp === 'C'"}], "mark": {"type": "line", "strokeWidth": 2}, "encoding": {"color": {"field": "exp", "type": "nominal", "scale": {"domain": ["A","B","C","D"], "range": ["#F6B124","#3850A7","#EE2A2F","#238B3E"]}, "legend": null}}},
  {"data": {"name": "labels"}, "transform": [{"filter": "datum.metabolite === 'NAA' && datum.exp === 'C' && datum.type === 'state'"}], "mark": {"type": "text", "align": "left", "baseline": "alphabetic", "font": "DejaVu Sans", "fontWeight": "bold", "fontSize": 15, "color": "#333333"}, "encoding": {"text": {"field": "label"}}},
  {"data": {"name": "labels"}, "transform": [{"filter": "datum.metabolite === 'NAA' && datum.exp === 'C' && datum.type === 'experiment'"}], "mark": {"type": "text", "align": "left", "baseline": "alphabetic", "font": "DejaVu Sans", "fontWeight": "bold", "fontSize": 14}, "encoding": {"text": {"field": "label"}, "color": {"field": "exp", "type": "nominal", "scale": {"domain": ["A","B","C","D"], "range": ["#F6B124","#3850A7","#EE2A2F","#238B3E"]}, "legend": null}}}
 ]},
{"encoding": {"x": {"field": "ppm", "type": "quantitative", "scale": {"domain": [3.1, 2.2], "nice": false, "zero": false}, "axis": {"orient": "bottom", "values": [3.1, 3.0, 2.9, 2.8, 2.7, 2.6, 2.5, 2.4, 2.3, 2.2], "grid": false, "domainColor": "#333333", "domainWidth": 1.6, "tickColor": "#333333", "tickWidth": 1.6, "tickSize": 3, "labelExpr": "abs(datum.value - 3) < 0.001 ? '3.0' : (abs(datum.value - 2.5) < 0.001 ? '2.5' : '')", "labelFont": "DejaVu Sans", "labelFontWeight": "bold", "labelFontSize": 7, "labelColor": "#444444", "labelPadding": 0, "labelFlush": false, "labelOverlap": false, "title": "ppm", "titleAnchor": "end", "titleFont": "DejaVu Sans", "titleFontWeight": "bold", "titleFontSize": 10, "titleColor": "#444444", "titlePadding": 3}},
  "y": {"field": "signal", "type": "quantitative", "scale": {"domain": [-1.09, 5.4386], "nice": false, "zero": false}, "axis": null}},
 "layer": [
  {"data": {"name": "spectra"}, "transform": [{"filter": "datum.metabolite === 'NAA' && datum.exp === 'D'"}], "mark": {"type": "line", "strokeWidth": 2}, "encoding": {"color": {"field": "exp", "type": "nominal", "scale": {"domain": ["A","B","C","D"], "range": ["#F6B124","#3850A7","#EE2A2F","#238B3E"]}, "legend": null}}},
  {"data": {"name": "labels"}, "transform": [{"filter": "datum.metabolite === 'NAA' && datum.exp === 'D' && datum.type === 'state'"}], "mark": {"type": "text", "align": "left", "baseline": "alphabetic", "font": "DejaVu Sans", "fontWeight": "bold", "fontSize": 15, "color": "#333333"}, "encoding": {"text": {"field": "label"}}},
  {"data": {"name": "labels"}, "transform": [{"filter": "datum.metabolite === 'NAA' && datum.exp === 'D' && datum.type === 'experiment'"}], "mark": {"type": "text", "align": "left", "baseline": "alphabetic", "font": "DejaVu Sans", "fontWeight": "bold", "fontSize": 14}, "encoding": {"text": {"field": "label"}, "color": {"field": "exp", "type": "nominal", "scale": {"domain": ["A","B","C","D"], "range": ["#F6B124","#3850A7","#EE2A2F","#238B3E"]}, "legend": null}}}
 ]}
]
},
{
"width": 225, "height": 457,
"resolve": {"scale": {"y": "independent"}, "axis": {"x": "independent"}},
"layer": [
{"encoding": {"x": {"field": "ppm", "type": "quantitative", "scale": {"domain": [3.1, 2.2142], "nice": false, "zero": false}, "axis": {"orient": "top", "domain": true, "domainColor": "#3a3a3a", "domainWidth": 2.2, "ticks": false, "labels": false, "grid": false, "title": "NAAG", "titleAnchor": "start", "titleAlign": "left", "titleBaseline": "alphabetic", "titlePadding": 7, "titleFont": "Open Sans", "titleFontSize": 21, "titleFontWeight": 600, "titleColor": "#333333"}},
  "y": {"field": "signal", "type": "quantitative", "scale": {"domain": [-5.4643, 1.0643], "nice": false, "zero": false}, "axis": null}},
 "layer": [
  {"data": {"name": "spectra"}, "transform": [{"filter": "datum.metabolite === 'NAAG' && datum.exp === 'A'"}], "mark": {"type": "line", "strokeWidth": 2}, "encoding": {"color": {"field": "exp", "type": "nominal", "scale": {"domain": ["A","B","C","D"], "range": ["#F6B124","#3850A7","#EE2A2F","#238B3E"]}, "legend": null}}},
  {"data": {"name": "labels"}, "transform": [{"filter": "datum.metabolite === 'NAAG' && datum.exp === 'A' && datum.type === 'state'"}], "mark": {"type": "text", "clip": true, "align": "left", "baseline": "alphabetic", "font": "DejaVu Sans", "fontWeight": "bold", "fontSize": 15, "color": "#333333"}, "encoding": {"text": {"field": "label"}}}
 ]},
{"encoding": {"x": {"field": "ppm", "type": "quantitative", "scale": {"domain": [3.1, 2.2142], "nice": false, "zero": false}, "axis": null},
  "y": {"field": "signal", "type": "quantitative", "scale": {"domain": [-3.5571, 2.9714], "nice": false, "zero": false}, "axis": null}},
 "layer": [
  {"data": {"name": "spectra"}, "transform": [{"filter": "datum.metabolite === 'NAAG' && datum.exp === 'B'"}], "mark": {"type": "line", "strokeWidth": 2}, "encoding": {"color": {"field": "exp", "type": "nominal", "scale": {"domain": ["A","B","C","D"], "range": ["#F6B124","#3850A7","#EE2A2F","#238B3E"]}, "legend": null}}},
  {"data": {"name": "labels"}, "transform": [{"filter": "datum.metabolite === 'NAAG' && datum.exp === 'B' && datum.type === 'state'"}], "mark": {"type": "text", "clip": true, "align": "left", "baseline": "alphabetic", "font": "DejaVu Sans", "fontWeight": "bold", "fontSize": 15, "color": "#333333"}, "encoding": {"text": {"field": "label"}}}
 ]},
{"encoding": {"x": {"field": "ppm", "type": "quantitative", "scale": {"domain": [3.1, 2.2142], "nice": false, "zero": false}, "axis": null},
  "y": {"field": "signal", "type": "quantitative", "scale": {"domain": [-2.1786, 4.35], "nice": false, "zero": false}, "axis": null}},
 "layer": [
  {"data": {"name": "spectra"}, "transform": [{"filter": "datum.metabolite === 'NAAG' && datum.exp === 'C'"}], "mark": {"type": "line", "strokeWidth": 2}, "encoding": {"color": {"field": "exp", "type": "nominal", "scale": {"domain": ["A","B","C","D"], "range": ["#F6B124","#3850A7","#EE2A2F","#238B3E"]}, "legend": null}}},
  {"data": {"name": "labels"}, "transform": [{"filter": "datum.metabolite === 'NAAG' && datum.exp === 'C' && datum.type === 'state'"}], "mark": {"type": "text", "clip": true, "align": "left", "baseline": "alphabetic", "font": "DejaVu Sans", "fontWeight": "bold", "fontSize": 15, "color": "#333333"}, "encoding": {"text": {"field": "label"}}}
 ]},
{"encoding": {"x": {"field": "ppm", "type": "quantitative", "scale": {"domain": [3.1, 2.2142], "nice": false, "zero": false}, "axis": {"orient": "bottom", "values": [3.1, 3.0, 2.9, 2.8, 2.7, 2.6, 2.5, 2.4, 2.3], "grid": false, "domainColor": "#333333", "domainWidth": 1.6, "tickColor": "#333333", "tickWidth": 1.6, "tickSize": 3, "labelExpr": "abs(datum.value - 3) < 0.001 ? '3.0' : (abs(datum.value - 2.5) < 0.001 ? '2.5' : '')", "labelFont": "DejaVu Sans", "labelFontWeight": "bold", "labelFontSize": 7, "labelColor": "#444444", "labelPadding": 0, "labelFlush": false, "labelOverlap": false, "title": "ppm", "titleAnchor": "end", "titleFont": "DejaVu Sans", "titleFontWeight": "bold", "titleFontSize": 10, "titleColor": "#444444", "titlePadding": 3}},
  "y": {"field": "signal", "type": "quantitative", "scale": {"domain": [-1.09, 5.4386], "nice": false, "zero": false}, "axis": null}},
 "layer": [
  {"data": {"name": "spectra"}, "transform": [{"filter": "datum.metabolite === 'NAAG' && datum.exp === 'D'"}], "mark": {"type": "line", "strokeWidth": 2}, "encoding": {"color": {"field": "exp", "type": "nominal", "scale": {"domain": ["A","B","C","D"], "range": ["#F6B124","#3850A7","#EE2A2F","#238B3E"]}, "legend": null}}},
  {"data": {"name": "labels"}, "transform": [{"filter": "datum.metabolite === 'NAAG' && datum.exp === 'D' && datum.type === 'state'"}], "mark": {"type": "text", "clip": true, "align": "left", "baseline": "alphabetic", "font": "DejaVu Sans", "fontWeight": "bold", "fontSize": 15, "color": "#333333"}, "encoding": {"text": {"field": "label"}}}
 ]}
]
}
]
}
